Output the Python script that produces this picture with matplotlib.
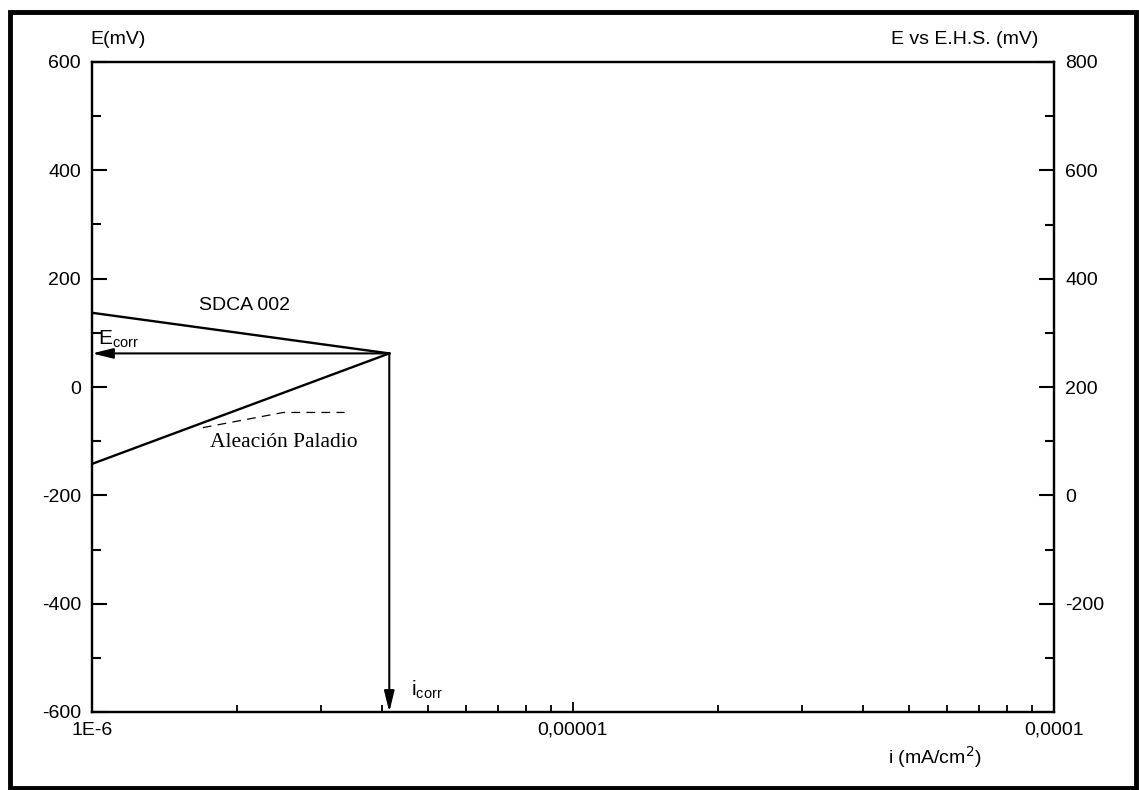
import matplotlib.pyplot as plt
from matplotlib.patches import Rectangle
from matplotlib.ticker import FixedLocator, NullFormatter, LogLocator

plt.rcParams['font.family'] = ['Liberation Sans', 'DejaVu Sans']
plt.rcParams['axes.unicode_minus'] = False

# data
sdca_i = [1e-6, 4.15e-6]
sdca_E = [137, 62]
pd_i = [1e-6, 4.15e-6]
pd_E = [-142, 62]
dash_i = [1.7e-6, 2.5e-6, 3.35e-6]
dash_E = [-75, -47, -47]
E_corr = 62
i_corr = 4.15e-6

x_ticks = [1e-6, 1e-5, 1e-4]
x_labels = ["1E-6", "0,00001", "0,0001"]
left_ticks = [-600, -400, -200, 0, 200, 400, 600]
right_ticks = [-200, 0, 200, 400, 600, 800]
ehs_offset = 200

fig = plt.figure(figsize=(11.39, 7.90), dpi=100)
ax = fig.add_axes([92 / 1139, 1 - 712 / 790, 962 / 1139, 650 / 790])

ax.plot(sdca_i, sdca_E, color="black", lw=1.7)
ax.plot(pd_i, pd_E, color="black", lw=1.7)
ax.plot(dash_i, dash_E, color="black", lw=0.9, linestyle=(0, (7, 5)))

arrow = dict(arrowstyle="-|>,head_length=0.9,head_width=0.22", color="black",
             lw=1.5, shrinkA=0, shrinkB=0, mutation_scale=14)
ax.annotate("", xy=(1e-6, E_corr), xytext=(i_corr, E_corr), arrowprops=arrow)
ax.annotate("", xy=(i_corr, -600), xytext=(i_corr, E_corr), arrowprops=arrow)

ax.text(2.08e-6, 150, "SDCA 002", fontsize=14, ha="center", va="center")
ax.text(2.5e-6, -103, "Aleación Paladio", fontsize=15.5, ha="center", va="center",
        family=["Liberation Serif", "DejaVu Serif"])
ax.text(1.03e-6, 68, r"$\mathregular{E_{corr}}$", fontsize=15, ha="left", va="bottom")
ax.text(4.6e-6, -560, r"$\mathregular{i_{corr}}$", fontsize=15, ha="left", va="center")

ax.set_xscale("log")
ax.set_xlim(1e-6, 1e-4)
ax.set_ylim(-600, 600)
ax.xaxis.set_major_locator(FixedLocator(x_ticks))
ax.set_xticklabels(x_labels)
ax.xaxis.set_minor_locator(LogLocator(base=10, subs=range(2, 10)))
ax.xaxis.set_minor_formatter(NullFormatter())
ax.yaxis.set_major_locator(FixedLocator(left_ticks))
ax.yaxis.set_minor_locator(FixedLocator(range(-500, 600, 200)))

ax.tick_params(axis="y", which="major", direction="in", length=11, width=1.5,
               labelsize=14, pad=8, right=False)
ax.tick_params(axis="y", which="minor", direction="in", length=6.5, width=1.5, right=False)
ax.tick_params(axis="x", which="major", direction="in", length=7, width=1.3,
               labelsize=14, pad=7, top=False)
ax.tick_params(axis="x", which="minor", direction="in", length=5, width=1.3, top=False)
for s in ax.spines.values():
    s.set_linewidth(1.6)

ax2 = ax.twinx()
ax2.set_ylim(-600 + ehs_offset, 600 + ehs_offset)
ax2.yaxis.set_major_locator(FixedLocator(right_ticks))
ax2.yaxis.set_minor_locator(FixedLocator(range(-300, 800, 200)))
ax2.tick_params(axis="y", which="major", direction="in", length=11, width=1.5,
                labelsize=14, pad=8)
ax2.tick_params(axis="y", which="minor", direction="in", length=6.5, width=1.5)
for s in ax2.spines.values():
    s.set_linewidth(1.6)

fig.text(90 / 1139, 1 - 40 / 790, "E(mV)", fontsize=14, ha="left", va="center")
fig.text(1038 / 1139, 1 - 40 / 790, "E vs E.H.S. (mV)", fontsize=14, ha="right", va="center")
fig.text(935 / 1139, 1 - 757 / 790, r"i (mA/cm$^2$)", fontsize=14, ha="center", va="center")

fig.patches.append(Rectangle((10 / 1139, 2 / 790), 1126 / 1139, 776 / 790,
                             transform=fig.transFigure, fill=False, lw=3.5,
                             edgecolor="black"))

fig.savefig("out.png", dpi=100)
